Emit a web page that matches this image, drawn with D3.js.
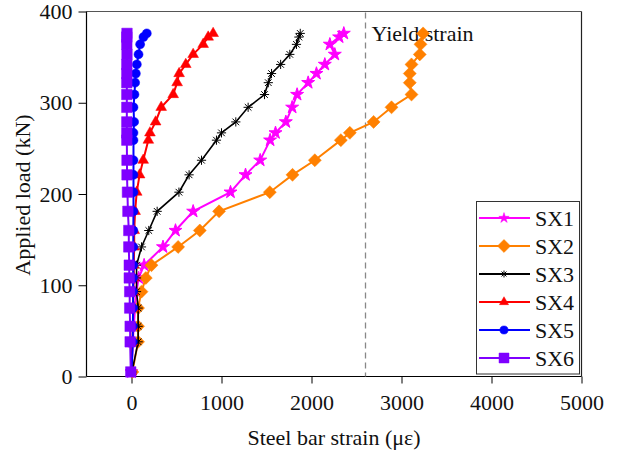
<!DOCTYPE html>
<html>
<head>
<meta charset="utf-8">
<script src="https://cdn.jsdelivr.net/npm/d3@7"></script>
<style>
  html, body { margin: 0; padding: 0; background: #fff; }
  svg { display: block; font-family: "Liberation Serif", "Times New Roman", serif; }
</style>
</head>
<body>
<svg id="chart" width="619" height="459"></svg>
<script>
// Load steps (kN) at which strains were recorded
const loadSteps = [5, 38, 55, 75, 93, 108, 122, 142, 160, 181, 202, 221, 237, 259, 267, 279, 295, 309, 322, 332, 342, 353, 364, 372, 376];
const loadStepsSX2 = [5, 38, 55, 75, 93, 108, 122, 142, 160, 181, 202, 221, 237, 259, 267, 279, 295, 309, 322, 332, 342, 353, 364, 376];

// Steel bar strain (με) for each specimen
const sx1Strain = [0, 15, 25, 40, 55, 80, 140, 350, 489, 685, 1100, 1267, 1430, 1540, 1600, 1715, 1785, 1840, 1963, 2055, 2148, 2259, 2204, 2307, 2359];
const sx2Strain = [10, 73, 73, 73, 111, 159, 222, 518, 759, 973, 1537, 1789, 2037, 2326, 2426, 2690, 2889, 3111, 3092, 3092, 3111, 3203, 3211, 3240];
const sx3Strain = [5, 74, 74, 74, 56, 56, 56, 111, 192, 285, 527, 640, 778, 944, 1000, 1159, 1296, 1478, 1520, 1556, 1657, 1759, 1833, 1860, 1875];
const sx4Strain = [0, 10, 15, 20, 20, 25, 25, 30, 30, 40, 58, 90, 130, 187, 205, 268, 330, 463, 507, 529, 603, 685, 796, 852, 907];
const sx5Strain = [0, 15, 15, 18, 18, 18, 20, 20, 20, 22, 22, 22, 22, 22, 22, 29, 22, 33, 40, 48, 59, 78, 96, 133, 170];
const sx6Strain = [-8, -15, -15, -20, -20, -25, -25, -30, -30, -40, -45, -50, -50, -52, -52, -52, -52, -52, -52, -52, -52, -50, -52, -52, -50];

const seriesNames = ["SX1", "SX2", "SX3", "SX4", "SX5", "SX6"];
const seriesColors = ["#ff00ff", "#ff8000", "#000000", "#ff0000", "#0000ff", "#7f00ff"];

const xTicks = [0, 1000, 2000, 3000, 4000, 5000];
const yTicks = [0, 100, 200, 300, 400];
const yieldStrain = 2600;

const series = [
  { name: seriesNames[0], loads: loadSteps, strain: sx1Strain, marker: "star" },
  { name: seriesNames[1], loads: loadStepsSX2, strain: sx2Strain, marker: "diamond" },
  { name: seriesNames[2], loads: loadSteps, strain: sx3Strain, marker: "asterisk" },
  { name: seriesNames[3], loads: loadSteps, strain: sx4Strain, marker: "triangle" },
  { name: seriesNames[4], loads: loadSteps, strain: sx5Strain, marker: "circle" },
  { name: seriesNames[5], loads: loadSteps, strain: sx6Strain, marker: "square" }
].map((s, i) => ({ ...s, color: seriesColors[i],
  points: s.strain.map((v, j) => ({ x: v, y: s.loads[j] })) }));

const FONT = "Liberation Serif, Times New Roman, serif";
const FS = 22;

const svg = d3.select("#chart");
const L = 86.5, R = 581.5, T = 11.5, B = 376.5;

const x = d3.scaleLinear().domain([-500, 5000]).range([L, R]);
const y = d3.scaleLinear().domain([0, 400]).range([B, T]);

// Marker path generators
function markerPath(type, k) {
  switch (type) {
    case "star": return d3.symbol(d3.symbolStar, 52 * k * k)();
    case "diamond": return d3.symbol(d3.symbolDiamond2, 108 * k * k)();
    case "triangle": return d3.symbol(d3.symbolTriangle, 50 * k * k)();
    case "circle": return d3.symbol(d3.symbolCircle, 64 * k * k)();
    case "square": return d3.symbol(d3.symbolSquare, 110 * k * k)();
    case "asterisk": {
      const r = 4.6 * k, d = r * 0.72;
      return `M${-r},0L${r},0M0,${-r}L0,${r}M${-d},${-d}L${d},${d}M${-d},${d}L${d},${-d}`;
    }
  }
}
const legendScale = { star: 0.8, diamond: 1, asterisk: 0.75, triangle: 0.85, circle: 0.9, square: 0.95 };

// Plot frame: top and right edges
svg.append("line").attr("x1", L).attr("x2", R).attr("y1", T).attr("y2", T)
  .attr("stroke", "#555").attr("stroke-width", 1.2);
svg.append("line").attr("x1", R).attr("x2", R).attr("y1", T).attr("y2", B)
  .attr("stroke", "#222").attr("stroke-width", 1.2);

// Axes
const xAxis = svg.append("g").attr("transform", `translate(0,${B})`)
  .call(d3.axisBottom(x).tickValues(xTicks).tickSize(7).tickPadding(11).tickFormat(d3.format("d")));
const yAxis = svg.append("g").attr("transform", `translate(${L},0)`)
  .call(d3.axisLeft(y).tickValues(yTicks).tickSize(8).tickPadding(6).tickFormat(d3.format("d")));
[xAxis, yAxis].forEach(g => {
  g.attr("font-family", FONT).attr("font-size", FS);
  g.select(".domain").attr("stroke", "#000").attr("stroke-width", 1.2);
  g.selectAll(".tick line").attr("stroke", "#000").attr("stroke-width", 1);
  g.selectAll(".tick text").attr("font-family", FONT).attr("font-size", FS).attr("fill", "#111");
});
xAxis.select(".domain").attr("d", `M${L},0H${R}`);
yAxis.select(".domain").attr("d", `M0,${B}V${T}`);

// Axis titles
svg.append("text").attr("x", 334).attr("y", 445).attr("text-anchor", "middle")
  .attr("font-family", FONT).attr("font-size", FS).attr("fill", "#111").text("Steel bar strain (με)");
svg.append("text").attr("transform", "translate(30,195) rotate(-90)").attr("text-anchor", "middle")
  .attr("font-family", FONT).attr("font-size", FS).attr("fill", "#111").text("Applied load (kN)");

// Yield strain reference line
svg.append("line").attr("x1", x(yieldStrain)).attr("x2", x(yieldStrain))
  .attr("y1", T + 1).attr("y2", B)
  .attr("stroke", "#888").attr("stroke-width", 1.3).attr("stroke-dasharray", "6,4");
svg.append("text").attr("x", x(yieldStrain) + 6).attr("y", 41)
  .attr("font-family", FONT).attr("font-size", FS).attr("fill", "#111").text("Yield strain");

// Series lines and markers
const line = d3.line().x(d => x(d.x)).y(d => y(d.y));
series.forEach(s => {
  const g = svg.append("g");
  const isStroke = s.marker === "asterisk";
  g.append("path").datum(s.points).attr("d", line).attr("fill", "none")
    .attr("stroke", s.color).attr("stroke-width", isStroke ? 1.6 : 2);
  g.selectAll("path.m").data(s.points).enter().append("path").attr("class", "m")
    .attr("transform", d => `translate(${x(d.x)},${y(d.y)})`)
    .attr("d", markerPath(s.marker, 1))
    .attr("fill", isStroke ? "none" : s.color)
    .attr("stroke", s.color).attr("stroke-width", isStroke ? 1 : (s.marker === "star" ? 1 : 0.5));
});

// Legend
const lg = svg.append("g");
lg.append("rect").attr("x", 476.5).attr("y", 201.5).attr("width", 103).attr("height", 172.5)
  .attr("fill", "#fff").attr("stroke", "#333").attr("stroke-width", 1);
series.forEach((s, i) => {
  const cy = 218 + i * 28;
  const isStroke = s.marker === "asterisk";
  lg.append("line").attr("x1", 479).attr("x2", 530).attr("y1", cy).attr("y2", cy)
    .attr("stroke", s.color).attr("stroke-width", 2);
  lg.append("path").attr("transform", `translate(504,${cy})`)
    .attr("d", markerPath(s.marker, legendScale[s.marker]))
    .attr("fill", isStroke ? "none" : s.color)
    .attr("stroke", s.color).attr("stroke-width", isStroke ? 1 : 0.5);
  lg.append("text").attr("x", 535).attr("y", cy + 7.5)
    .attr("font-family", FONT).attr("font-size", FS).attr("fill", "#111").text(s.name);
});
</script>
</body>
</html>
